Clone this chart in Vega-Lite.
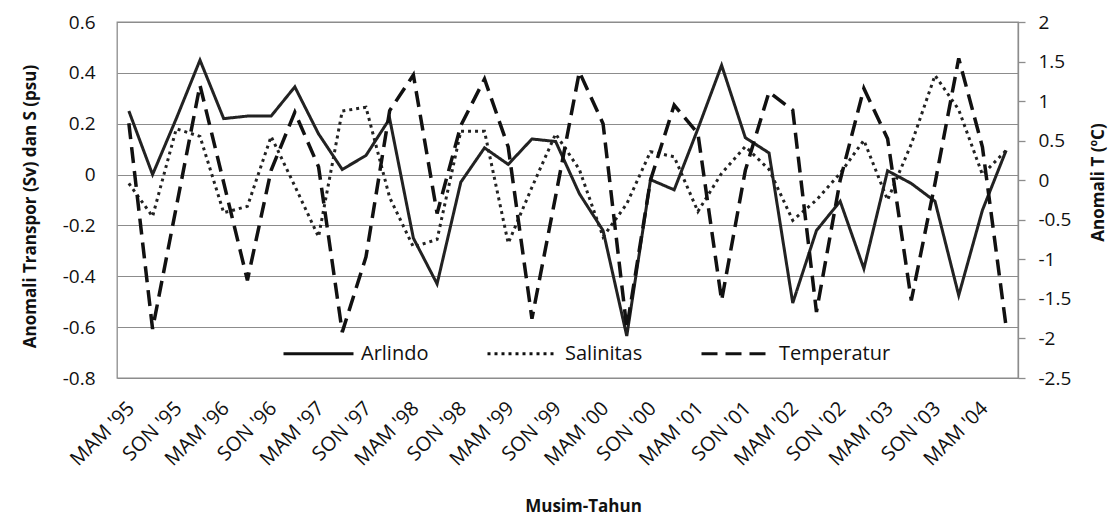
{
  "$schema": "https://vega.github.io/schema/vega-lite/v6.json",
  "width": 901,
  "height": 356,
  "autosize": {"type": "none"},
  "padding": {"left": 117, "top": 22, "right": 101, "bottom": 141},
  "background": "white",
  "config": {
    "view": {"stroke": "#8c8c8c", "strokeWidth": 1.3},
    "font": "Open Sans",
    "axis": {"labelFont": "Open Sans", "titleFont": "Open Sans", "labelColor": "#111111", "titleColor": "#111111"}
  },
  "data": {
    "values": [
      {"Musim": "MAM '95", "Arlindo": 0.25, "Salinitas": -0.035, "Temperatur": 0.72},
      {"Musim": "JJA '95", "Arlindo": 0.0, "Salinitas": -0.165, "Temperatur": -1.88},
      {"Musim": "SON '95", "Arlindo": 0.22, "Salinitas": 0.18, "Temperatur": -0.34},
      {"Musim": "DJF '96", "Arlindo": 0.45, "Salinitas": 0.15, "Temperatur": 1.2},
      {"Musim": "MAM '96", "Arlindo": 0.22, "Salinitas": -0.15, "Temperatur": -0.03},
      {"Musim": "JJA '96", "Arlindo": 0.23, "Salinitas": -0.125, "Temperatur": -1.265},
      {"Musim": "SON '96", "Arlindo": 0.23, "Salinitas": 0.15, "Temperatur": 0.125},
      {"Musim": "DJF '97", "Arlindo": 0.345, "Salinitas": -0.045, "Temperatur": 0.86},
      {"Musim": "MAM '97", "Arlindo": 0.16, "Salinitas": -0.245, "Temperatur": 0.17},
      {"Musim": "JJA '97", "Arlindo": 0.02, "Salinitas": 0.25, "Temperatur": -1.92},
      {"Musim": "SON '97", "Arlindo": 0.075, "Salinitas": 0.265, "Temperatur": -0.97},
      {"Musim": "DJF '98", "Arlindo": 0.22, "Salinitas": -0.09, "Temperatur": 0.88},
      {"Musim": "MAM '98", "Arlindo": -0.25, "Salinitas": -0.285, "Temperatur": 1.33},
      {"Musim": "JJA '98", "Arlindo": -0.43, "Salinitas": -0.255, "Temperatur": -0.42},
      {"Musim": "SON '98", "Arlindo": -0.03, "Salinitas": 0.17, "Temperatur": 0.69},
      {"Musim": "DJF '99", "Arlindo": 0.105, "Salinitas": 0.17, "Temperatur": 1.28},
      {"Musim": "MAM '99", "Arlindo": 0.04, "Salinitas": -0.27, "Temperatur": 0.42},
      {"Musim": "JJA '99", "Arlindo": 0.14, "Salinitas": -0.05, "Temperatur": -1.75},
      {"Musim": "SON '99", "Arlindo": 0.13, "Salinitas": 0.16, "Temperatur": -0.2},
      {"Musim": "DJF '00", "Arlindo": -0.075, "Salinitas": 0.02, "Temperatur": 1.37},
      {"Musim": "MAM '00", "Arlindo": -0.22, "Salinitas": -0.245, "Temperatur": 0.715},
      {"Musim": "JJA '00", "Arlindo": -0.635, "Salinitas": -0.115, "Temperatur": -1.87},
      {"Musim": "SON '00", "Arlindo": -0.02, "Salinitas": 0.09, "Temperatur": 0.0},
      {"Musim": "DJF '01", "Arlindo": -0.06, "Salinitas": 0.07, "Temperatur": 0.95},
      {"Musim": "MAM '01", "Arlindo": 0.18, "Salinitas": -0.145, "Temperatur": 0.59},
      {"Musim": "JJA '01", "Arlindo": 0.43, "Salinitas": 0.005, "Temperatur": -1.52},
      {"Musim": "SON '01", "Arlindo": 0.145, "Salinitas": 0.11, "Temperatur": 0.125},
      {"Musim": "DJF '02", "Arlindo": 0.085, "Salinitas": 0.02, "Temperatur": 1.115},
      {"Musim": "MAM '02", "Arlindo": -0.505, "Salinitas": -0.18, "Temperatur": 0.885},
      {"Musim": "JJA '02", "Arlindo": -0.22, "Salinitas": -0.1, "Temperatur": -1.665},
      {"Musim": "SON '02", "Arlindo": -0.105, "Salinitas": 0.005, "Temperatur": 0.0},
      {"Musim": "DJF '03", "Arlindo": -0.37, "Salinitas": 0.135, "Temperatur": 1.16},
      {"Musim": "MAM '03", "Arlindo": 0.015, "Salinitas": -0.1, "Temperatur": 0.525},
      {"Musim": "JJA '03", "Arlindo": -0.035, "Salinitas": 0.12, "Temperatur": -1.52},
      {"Musim": "SON '03", "Arlindo": -0.105, "Salinitas": 0.39, "Temperatur": -0.04},
      {"Musim": "DJF '04", "Arlindo": -0.475, "Salinitas": 0.255, "Temperatur": 1.54},
      {"Musim": "MAM '04", "Arlindo": -0.14, "Salinitas": 0.0, "Temperatur": 0.42},
      {"Musim": "JJA '04", "Arlindo": 0.095, "Salinitas": 0.095, "Temperatur": -1.855}
    ]
  },
  "layer": [
    {
      "transform": [{"fold": ["Arlindo", "Salinitas"], "as": ["Seri", "Nilai"]}],
      "mark": {"type": "line", "strokeWidth": 3, "color": "#222222", "strokeJoin": "miter"},
      "encoding": {
        "x": {
          "field": "Musim", "type": "ordinal",
          "sort": ["MAM '95","JJA '95","SON '95","DJF '96","MAM '96","JJA '96","SON '96","DJF '97","MAM '97","JJA '97","SON '97","DJF '98","MAM '98","JJA '98","SON '98","DJF '99","MAM '99","JJA '99","SON '99","DJF '00","MAM '00","JJA '00","SON '00","DJF '01","MAM '01","JJA '01","SON '01","DJF '02","MAM '02","JJA '02","SON '02","DJF '03","MAM '03","JJA '03","SON '03","DJF '04","MAM '04","JJA '04"],
          "scale": {"type": "point", "padding": 0.5},
          "axis": {
            "title": "Musim-Tahun",
            "values": ["MAM '95","SON '95","MAM '96","SON '96","MAM '97","SON '97","MAM '98","SON '98","MAM '99","SON '99","MAM '00","SON '00","MAM '01","SON '01","MAM '02","SON '02","MAM '03","SON '03","MAM '04"],
            "ticks": false, "domain": false, "grid": false,
            "labelAngle": -45, "labelAlign": "right", "labelBaseline": "middle",
            "labelFontSize": 20, "labelPadding": 27, "labelOffset": 2,
            "titleFontSize": 17, "titleFontWeight": "bold",
            "titleX": 466, "titleY": 128, "titleAlign": "center", "titleBaseline": "middle"
          }
        },
        "y": {
          "field": "Nilai", "type": "quantitative",
          "scale": {"domain": [-0.8, 0.6], "nice": false, "zero": false},
          "axis": {
            "title": "Anomali Transpor (Sv)  dan S (psu)",
            "values": [-0.8, -0.6, -0.4, -0.2, 0, 0.2, 0.4, 0.6],
            "format": "~g",
            "labelExpr": "replace(datum.label, '\u2212', '-')",
            "ticks": false, "domain": false, "grid": true,
            "gridColor": "#8c8c8c", "gridWidth": 1,
            "labelFontSize": 19, "labelPadding": 22,
            "titleFontSize": 17, "titleFontWeight": "bold",
            "titleX": -87, "titleY": 184, "titleAngle": -90, "titleAlign": "center", "titleBaseline": "middle"
          }
        },
        "strokeDash": {
          "field": "Seri", "type": "nominal",
          "scale": {"domain": ["Arlindo", "Salinitas", "Temperatur"], "range": [[1, 0], [3, 4], [16, 8]]},
          "legend": {
            "orient": "none", "legendX": 165, "legendY": 295, "direction": "horizontal",
            "title": null, "symbolType": "stroke", "symbolSize": 4900, "symbolStrokeWidth": 3,
            "symbolStrokeColor": "#222222", "labelFontSize": 20, "labelFont": "Open Sans",
            "labelColor": "#111111", "labelOffset": 6, "columnPadding": 52
          }
        }
      }
    },
    {
      "transform": [{"fold": ["Temperatur"], "as": ["Seri", "Nilai"]}],
      "mark": {"type": "line", "strokeWidth": 3.5, "color": "#111111", "strokeJoin": "miter"},
      "encoding": {
        "x": {
          "field": "Musim", "type": "ordinal",
          "sort": ["MAM '95","JJA '95","SON '95","DJF '96","MAM '96","JJA '96","SON '96","DJF '97","MAM '97","JJA '97","SON '97","DJF '98","MAM '98","JJA '98","SON '98","DJF '99","MAM '99","JJA '99","SON '99","DJF '00","MAM '00","JJA '00","SON '00","DJF '01","MAM '01","JJA '01","SON '01","DJF '02","MAM '02","JJA '02","SON '02","DJF '03","MAM '03","JJA '03","SON '03","DJF '04","MAM '04","JJA '04"],
          "scale": {"type": "point", "padding": 0.5}
        },
        "y": {
          "field": "Nilai", "type": "quantitative",
          "scale": {"domain": [-2.5, 2], "nice": false, "zero": false},
          "axis": {
            "orient": "right",
            "title": "Anomali T (ºC)",
            "values": [-2.5, -2, -1.5, -1, -0.5, 0, 0.5, 1, 1.5, 2],
            "format": "~g",
            "labelExpr": "replace(datum.label, '\u2212', '-')",
            "ticks": true, "tickSize": 7, "tickColor": "#8c8c8c", "tickWidth": 1.3,
            "domain": true, "domainColor": "#8c8c8c", "domainWidth": 1.3, "grid": false,
            "labelFontSize": 19, "labelPadding": 13,
            "titleFontSize": 17, "titleFontWeight": "bold",
            "titleX": 80, "titleY": 160, "titleAngle": -90, "titleAlign": "center", "titleBaseline": "middle"
          }
        },
        "strokeDash": {
          "field": "Seri", "type": "nominal",
          "scale": {"domain": ["Arlindo", "Salinitas", "Temperatur"], "range": [[1, 0], [3, 4], [16, 8]]}
        }
      }
    }
  ],
  "resolve": {"scale": {"y": "independent"}}
}
